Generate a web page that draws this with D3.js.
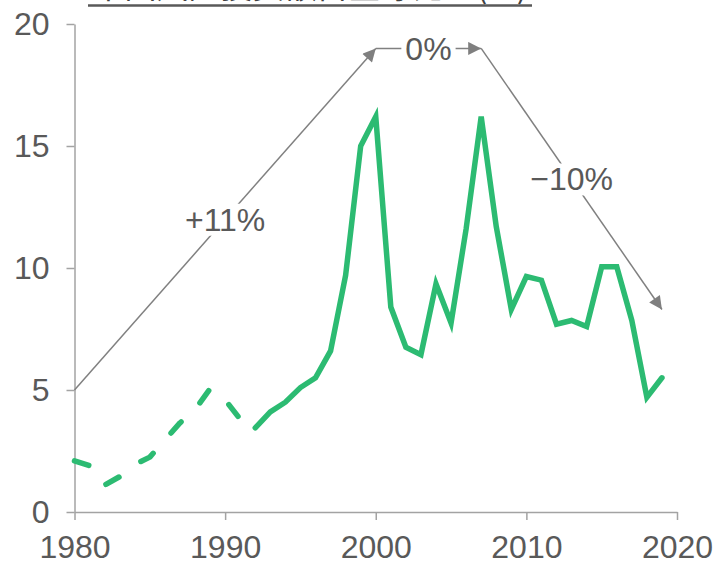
<!DOCTYPE html>
<html>
<head>
<meta charset="utf-8">
<script src="https://cdn.jsdelivr.net/npm/d3@7"></script>
<style>
  body { margin: 0; background: #fff; }
  svg { display: block; font-family: "Liberation Sans", Arial, sans-serif; }
</style>
</head>
<body>
<div id="chart"></div>
<script>
const width = 715;
const height = 561;

// share of global total, %
const years = [1980, 1981, 1982, 1983, 1984, 1985, 1986, 1987, 1988, 1989,
  1990, 1991, 1992, 1993, 1994, 1995, 1996, 1997, 1998, 1999,
  2000, 2001, 2002, 2003, 2004, 2005, 2006, 2007, 2008, 2009,
  2010, 2011, 2012, 2013, 2014, 2015, 2016, 2017, 2018, 2019];
const values = [2.1, 1.9, 1.1, 1.45, 1.95, 2.25, 2.95, 3.65, 4.2, 5.05,
  4.6, 3.8, 3.45, 4.1, 4.5, 5.1, 5.5, 6.6, 9.7, 15.0,
  16.2, 8.4, 6.75, 6.45, 9.35, 7.75, 11.6, 16.2, 11.7, 8.3,
  9.65, 9.5, 7.7, 7.85, 7.6, 10.05, 10.05, 7.85, 4.7, 5.5];
const dashedUntil = 1992; // early years drawn dashed

const yTicks = [0, 5, 10, 15, 20];
const xTicks = [1980, 1990, 2000, 2010, 2020];

// trend arrows: start, end, label
const arrowStarts = [[1980, 5], [2000, 19], [2007, 19]];
const arrowEnds = [[2000, 19], [2007, 19], [2019, 8.3]];
const arrowLabels = ["+11%", "0%", "\u221210%"];

const titleText = "中国风险投资额占全球比重(%)";

const data = years.map((yr, i) => ({ year: yr, value: values[i] }));

const svg = d3.select("#chart")
  .append("svg")
  .attr("width", width)
  .attr("height", height);

const x = d3.scaleLinear([1980, 2020], [74.5, 677]);
const y = d3.scaleLinear([0, 20], [512, 24]);

const textColor = "#595959";
const axisColor = "#a3a3a3";
const green = "#2cbb72";

// title (cut off by the top edge in the original)
svg.append("text")
  .attr("x", 310)
  .attr("y", -2.5)
  .attr("text-anchor", "middle")
  .attr("font-family", "'Noto Sans CJK SC', sans-serif")
  .attr("font-size", 32)
  .attr("fill", "#404040")
  .text(titleText);
svg.append("line")
  .attr("x1", 88).attr("x2", 532)
  .attr("y1", 5.5).attr("y2", 5.5)
  .attr("stroke", textColor)
  .attr("stroke-width", 2.5);

// axes
const yAxis = svg.append("g")
  .attr("transform", `translate(${x(1980)},0)`)
  .call(d3.axisLeft(y).tickValues(yTicks).tickSize(8).tickSizeOuter(0).tickPadding(17));
const xAxis = svg.append("g")
  .attr("transform", `translate(0,${y(0)})`)
  .call(d3.axisBottom(x).tickValues(xTicks).tickFormat(d3.format("d")).tickSize(8).tickSizeOuter(0).tickPadding(15));

[yAxis, xAxis].forEach((g) => {
  g.select(".domain").attr("stroke", axisColor).attr("stroke-width", 1.5);
  g.selectAll(".tick line").attr("stroke", axisColor).attr("stroke-width", 1.5);
  g.selectAll(".tick text")
    .attr("fill", textColor)
    .attr("font-size", 32)
    .attr("font-family", "'Liberation Sans', Arial, sans-serif");
});

// arrow annotations
svg.append("defs").append("marker")
  .attr("id", "head")
  .attr("viewBox", "0 0 10 10")
  .attr("refX", 10)
  .attr("refY", 5)
  .attr("markerUnits", "userSpaceOnUse")
  .attr("markerWidth", 16)
  .attr("markerHeight", 13)
  .attr("orient", "auto")
  .append("path")
  .attr("d", "M0,0L10,5L0,10z")
  .attr("fill", "#7f7f7f");

const ann = svg.append("g");
arrowStarts.forEach((s, i) => {
  const e = arrowEnds[i];
  ann.append("line")
    .attr("x1", x(s[0])).attr("y1", y(s[1]))
    .attr("x2", x(e[0])).attr("y2", y(e[1]))
    .attr("stroke", "#808080")
    .attr("stroke-width", 1.5)
    .attr("marker-end", "url(#head)");
});
arrowStarts.forEach((s, i) => {
  const e = arrowEnds[i];
  const cx = (x(s[0]) + x(e[0])) / 2;
  const cy = (y(s[1]) + y(e[1])) / 2;
  const g = ann.append("g");
  const bg = g.append("rect").attr("fill", "#fff");
  const t = g.append("text")
    .attr("x", cx)
    .attr("y", cy)
    .attr("dy", "0.36em")
    .attr("text-anchor", "middle")
    .attr("font-size", 32)
    .attr("fill", textColor)
    .text(arrowLabels[i]);
  const b = t.node().getBBox();
  bg.attr("x", b.x - 4).attr("y", b.y + 2)
    .attr("width", b.width + 8).attr("height", b.height - 4);
});

// series
const line = d3.line().x((d) => x(d.year)).y((d) => y(d.value));

svg.append("path")
  .datum(data.filter((d) => d.year <= dashedUntil))
  .attr("d", line)
  .attr("fill", "none")
  .attr("stroke", green)
  .attr("stroke-width", 5.5)
  .attr("stroke-linecap", "round")
  .attr("stroke-linejoin", "round")
  .attr("stroke-dasharray", "15,27");

svg.append("path")
  .datum(data.filter((d) => d.year >= dashedUntil))
  .attr("d", line)
  .attr("fill", "none")
  .attr("stroke", green)
  .attr("stroke-width", 5.5)
  .attr("stroke-linecap", "round")
  .attr("stroke-linejoin", "miter");
</script>
</body>
</html>
